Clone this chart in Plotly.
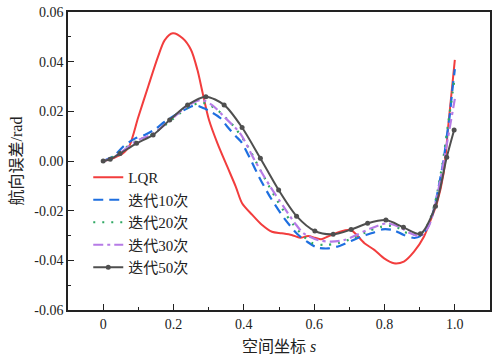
import plotly.graph_objects as go

# ---- data ----
s_lqr = [0, 0.03, 0.06, 0.075, 0.0995, 0.128, 0.156, 0.175, 0.198, 0.226, 0.25, 0.268, 0.283, 0.301,
         0.325, 0.353, 0.377, 0.395, 0.424, 0.452, 0.48, 0.508, 0.536, 0.56, 0.583, 0.602, 0.62, 0.649,
         0.686, 0.705, 0.743, 0.771, 0.799, 0.827, 0.855, 0.884, 0.912, 0.935, 0.949, 0.968, 0.982, 1.0]
v_lqr = [0, 0.0012, 0.0035, 0.0062, 0.0175, 0.030, 0.042, 0.0487, 0.0514, 0.0494, 0.0447, 0.0367, 0.0273,
         0.0165, 0.0071, -0.0023, -0.0103, -0.017, -0.0217, -0.0258, -0.0285, -0.0291, -0.0298, -0.0309,
         -0.0302, -0.0309, -0.0315, -0.0298, -0.0280, -0.0278, -0.0331, -0.0358, -0.0392, -0.0412, -0.0405,
         -0.0365, -0.0305, -0.0224, -0.017, -0.005, 0.0152, 0.0407]

s_10 = [0, 0.03, 0.057, 0.09, 0.118, 0.15, 0.175, 0.222, 0.262, 0.287, 0.31, 0.334, 0.352, 0.377, 0.392,
        0.416, 0.444, 0.477, 0.515, 0.552, 0.58, 0.608, 0.64, 0.672, 0.705, 0.733, 0.765, 0.794, 0.825,
        0.855, 0.885, 0.905, 0.925, 0.94, 0.954, 0.968, 0.977, 0.985, 0.992, 1.0]
v_10 = [0, 0.002, 0.0058, 0.009, 0.0105, 0.013, 0.0158, 0.0199, 0.0224, 0.0212, 0.0195, 0.0172, 0.0140,
        0.0100, 0.0078, 0.0015, -0.0066, -0.015, -0.0231, -0.0294, -0.0325, -0.0348, -0.0352, -0.0342,
        -0.0322, -0.0305, -0.029, -0.0275, -0.0278, -0.0298, -0.031, -0.03, -0.026, -0.0197, -0.0103,
        0.0004, 0.0098, 0.0178, 0.0273, 0.037]

s_20 = [0, 0.03, 0.06, 0.1, 0.14, 0.19, 0.24, 0.27, 0.292, 0.325, 0.35, 0.376, 0.41, 0.45, 0.494, 0.54,
        0.592, 0.63, 0.668, 0.71, 0.75, 0.79, 0.83, 0.855, 0.88, 0.9, 0.925, 0.945, 0.965, 0.98, 1.0]
v_20 = [0, 0.0018, 0.005, 0.0085, 0.0108, 0.016, 0.0215, 0.0232, 0.0232, 0.0205, 0.0172, 0.0132, 0.0062,
        -0.0045, -0.0157, -0.0255, -0.0329, -0.0338, -0.0331, -0.0311, -0.0285, -0.0265, -0.0262, -0.0285,
        -0.0295, -0.0298, -0.025, -0.016, -0.001, 0.014, 0.034]

s_30 = [0, 0.03, 0.06, 0.1, 0.14, 0.19, 0.24, 0.278, 0.31, 0.344, 0.39, 0.43, 0.475, 0.513, 0.545, 0.569,
        0.61, 0.649, 0.686, 0.72, 0.76, 0.808, 0.845, 0.874, 0.902, 0.925, 0.945, 0.965, 0.98, 1.0]
v_30 = [0, 0.0015, 0.0045, 0.0085, 0.0108, 0.0163, 0.0222, 0.0246, 0.0225, 0.0178, 0.011, 0.0005, -0.0103,
        -0.0184, -0.025, -0.029, -0.0318, -0.0325, -0.0318, -0.0298, -0.0272, -0.0251, -0.0268, -0.0291,
        -0.0302, -0.0265, -0.017, -0.003, 0.009, 0.025]

s_50 = [0, 0.02, 0.048, 0.095, 0.142, 0.189, 0.24, 0.292, 0.344, 0.395, 0.447, 0.499, 0.55, 0.602, 0.654,
        0.705, 0.752, 0.804, 0.854, 0.902, 0.945, 0.977, 0.998]
v_50 = [0, 0.0007, 0.003, 0.0071, 0.0105, 0.0165, 0.0226, 0.0259, 0.0226, 0.0135, 0.0011, -0.0117, -0.0222,
        -0.0282, -0.0295, -0.0276, -0.0251, -0.0238, -0.0267, -0.0293, -0.0182, 0.0015, 0.0125]

names = ["LQR", "迭代10次", "迭代20次", "迭代30次", "迭代50次"]

x_tickvals = [0, 0.2, 0.4, 0.6, 0.8, 1.0]
x_ticktext = ["0", "0.2", "0.4", "0.6", "0.8", "1.0"]
y_tickvals = [0.06, 0.04, 0.02, 0.0, -0.02, -0.04, -0.06]
y_ticktext = ["0.06", "0.04", "0.02", "0.00", "-0.02", "-0.04", "-0.06"]

# ---- figure ----
SERIF = "'Liberation Serif', 'DejaVu Serif', 'Noto Sans CJK SC', serif"
fig = go.Figure()

fig.add_trace(go.Scatter(x=s_lqr, y=v_lqr, name=names[0], mode="lines",
                         line=dict(color="#f23d3d", width=2, shape="spline", smoothing=0.8)))
fig.add_trace(go.Scatter(x=s_10, y=v_10, name=names[1], mode="lines",
                         line=dict(color="#1e6fe0", width=2.2, shape="spline", smoothing=0.8,
                                   dash="10px,6px")))
fig.add_trace(go.Scatter(x=s_20, y=v_20, name=names[2], mode="lines",
                         line=dict(color="#2fa863", width=2.2, shape="spline", smoothing=0.8,
                                   dash="2px,7px")))
fig.add_trace(go.Scatter(x=s_30, y=v_30, name=names[3], mode="lines",
                         line=dict(color="#b67be6", width=2.2, shape="spline", smoothing=0.8,
                                   dash="10px,4px,3px,4px")))
fig.add_trace(go.Scatter(x=s_50, y=v_50, name=names[4], mode="lines+markers",
                         line=dict(color="#4f4f4f", width=2, shape="spline", smoothing=0.8),
                         marker=dict(color="#4f4f4f", size=5)))

fig.update_layout(
    width=493, height=357,
    margin=dict(l=68, r=1, t=12, b=47),
    paper_bgcolor="white", plot_bgcolor="white",
    font=dict(family=SERIF, size=13, color="#222"),
    showlegend=True,
    legend=dict(x=0.048, y=0.50, xanchor="left", yanchor="top",
                bgcolor="rgba(0,0,0,0)", borderwidth=0,
                font=dict(family=SERIF, size=15, color="#222"),
                tracegroupgap=0, itemwidth=30),
)

fig.update_xaxes(
    range=[-0.1, 1.1], tickvals=x_tickvals, ticktext=x_ticktext,
    showline=True, linecolor="#222", linewidth=1.5, mirror=True,
    ticks="inside", ticklen=6, tickwidth=1.2, tickcolor="#222",
    minor=dict(ticks="inside", ticklen=3.5, tickwidth=1, tickcolor="#222", dtick=0.1, showgrid=False),
    showgrid=False, zeroline=False,
    tickfont=dict(family=SERIF, size=14),
    title=dict(text="空间坐标 <i>s</i>", font=dict(family=SERIF, size=16), standoff=10),
)
fig.update_yaxes(
    range=[-0.06, 0.06], tickvals=y_tickvals, ticktext=y_ticktext,
    showline=True, linecolor="#222", linewidth=1.5, mirror=True,
    ticks="inside", ticklen=6, tickwidth=1.2, tickcolor="#222",
    minor=dict(ticks="inside", ticklen=3.5, tickwidth=1, tickcolor="#222", dtick=0.01, showgrid=False),
    showgrid=False, zeroline=False,
    tickfont=dict(family=SERIF, size=14),
    title=dict(text="航向误差/rad", font=dict(family=SERIF, size=16), standoff=8),
)

fig.write_html("out.html")
